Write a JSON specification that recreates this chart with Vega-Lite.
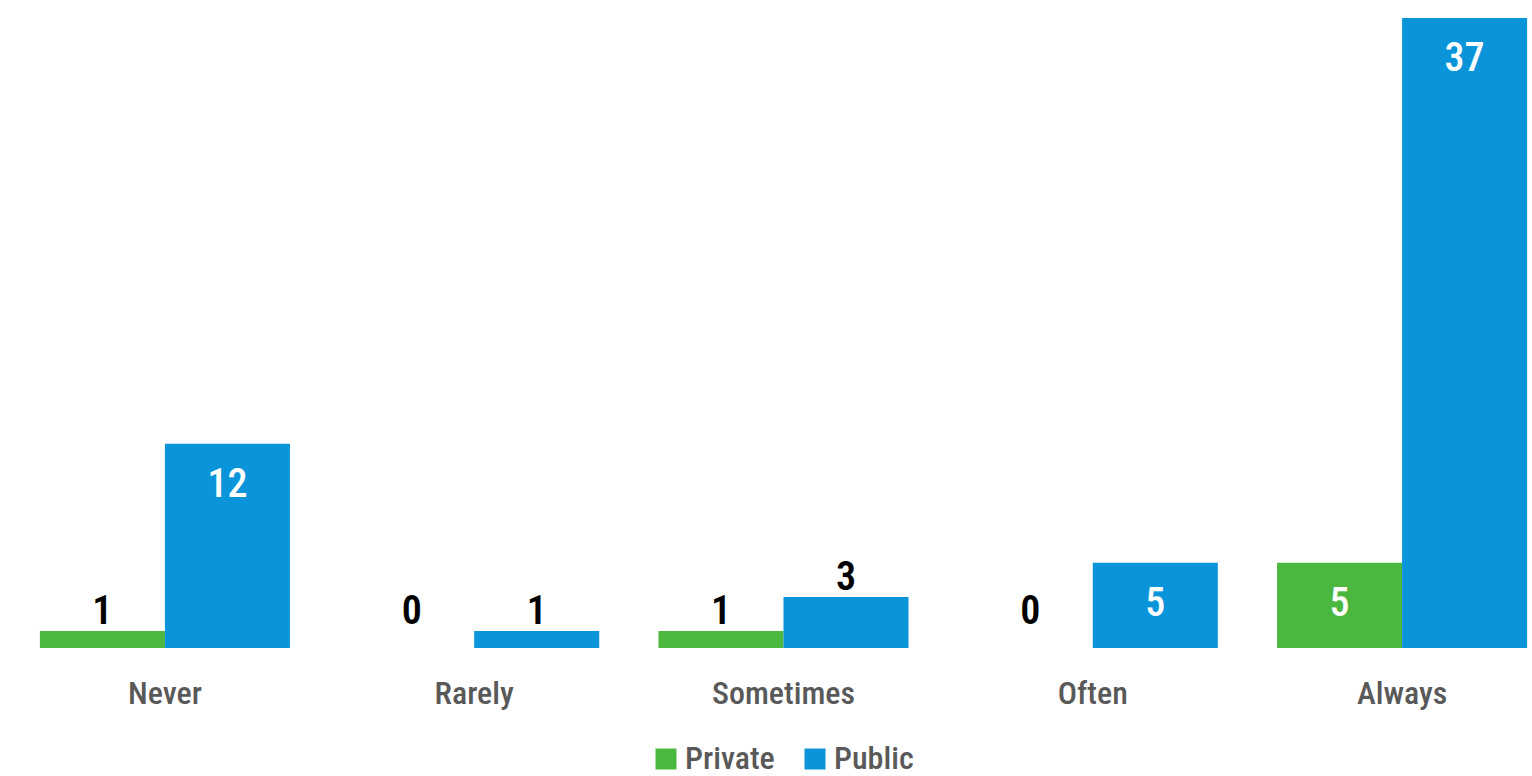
{
  "$schema": "https://vega.github.io/schema/vega-lite/v6.json",
  "width": 1532,
  "height": 630,
  "autosize": {"type": "none"},
  "padding": {"top": 18, "left": 0, "right": 0, "bottom": 128},
  "background": "white",
  "config": {
    "view": {"stroke": null},
    "font": "Liberation Sans Narrow, Roboto Condensed, DejaVu Sans Condensed, Roboto, sans-serif"
  },
  "data": {
    "values": [
      {"cat": "Never", "series": "Private", "value": 1},
      {"cat": "Never", "series": "Public", "value": 12},
      {"cat": "Rarely", "series": "Private", "value": 0},
      {"cat": "Rarely", "series": "Public", "value": 1},
      {"cat": "Sometimes", "series": "Private", "value": 1},
      {"cat": "Sometimes", "series": "Public", "value": 3},
      {"cat": "Often", "series": "Private", "value": 0},
      {"cat": "Often", "series": "Public", "value": 5},
      {"cat": "Always", "series": "Private", "value": 5},
      {"cat": "Always", "series": "Public", "value": 37}
    ]
  },
  "encoding": {
    "x": {
      "field": "cat",
      "type": "nominal",
      "sort": ["Never", "Rarely", "Sometimes", "Often", "Always"],
      "scale": {"range": [0, 1567], "paddingInner": 0.1916, "paddingOuter": 0.129},
      "axis": {
        "title": null,
        "domain": false,
        "ticks": false,
        "labelAngle": 0,
        "labelFontSize": 32,
        "labelFontWeight": 500,
        "labelColor": "#595959",
        "labelPadding": 30
      }
    },
    "xOffset": {
      "field": "series",
      "type": "nominal",
      "sort": ["Private", "Public"],
      "scale": {"paddingInner": 0, "paddingOuter": 0}
    },
    "y": {
      "field": "value",
      "type": "quantitative",
      "scale": {"domain": [0, 37], "nice": false, "zero": true},
      "axis": null
    }
  },
  "layer": [
    {
      "mark": {"type": "bar"},
      "encoding": {
        "color": {
          "field": "series",
          "type": "nominal",
          "sort": ["Private", "Public"],
          "scale": {"domain": ["Private", "Public"], "range": ["#4cb73e", "#0a94da"]},
          "legend": {
            "title": null,
            "orient": "none",
            "direction": "horizontal",
            "legendX": 650,
            "legendY": 725,
            "symbolType": "square",
            "symbolSize": 441,
            "symbolStrokeWidth": 0,
            "labelFontSize": 32,
            "labelFontWeight": 500,
            "labelColor": "#595959",
            "labelOffset": 3,
            "columnPadding": 24
          }
        }
      }
    },
    {
      "transform": [{"filter": "datum.value >= 4"}],
      "mark": {"type": "text", "baseline": "middle", "dy": 41, "fontSize": 40, "fontWeight": 500, "color": "white"},
      "encoding": {"text": {"field": "value", "type": "quantitative"}}
    },
    {
      "transform": [{"filter": "datum.value >= 1 && datum.value < 4"}],
      "mark": {"type": "text", "baseline": "middle", "dy": -19, "fontSize": 40, "fontWeight": 600, "color": "black"},
      "encoding": {"text": {"field": "value", "type": "quantitative"}}
    },
    {
      "transform": [{"filter": "datum.value == 0"}],
      "mark": {"type": "text", "baseline": "middle", "dy": -36, "fontSize": 40, "fontWeight": 600, "color": "black"},
      "encoding": {"text": {"field": "value", "type": "quantitative"}}
    }
  ]
}
